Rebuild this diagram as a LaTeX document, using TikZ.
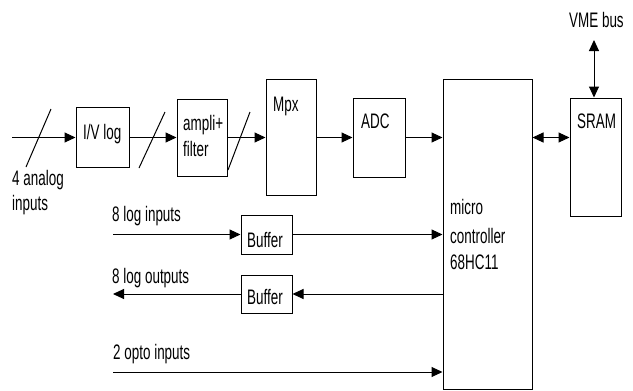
\documentclass[tikz,border=0pt]{standalone}
\usepackage{fontspec}
\setmainfont[FakeStretch=0.64]{Liberation Sans}
\usetikzlibrary{arrows.meta}
\begin{document}
\begin{tikzpicture}[x=1pt,y=-1pt,
  every node/.style={font=\fontsize{21}{24}\selectfont},
  box/.style={draw, line width=1pt, inner sep=0pt},
  lbl/.style={anchor=base west, inner sep=0pt},
  conn/.style={line width=1pt},
  arr/.style={conn, -{Triangle[length=11pt,width=10pt]}},
  darr/.style={conn, {Triangle[length=11pt,width=10pt]}-{Triangle[length=11pt,width=10pt]}}]
\useasboundingbox (0,0) rectangle (633,391);
% boxes
\node[box, minimum width=53, minimum height=60] (iv) at (102.5,137.5) {};
\node[box, minimum width=50, minimum height=77] (amp) at (202,137.5) {};
\node[box, minimum width=50, minimum height=116] (mpx) at (291,137.5) {};
\node[box, minimum width=52, minimum height=79] (adc) at (379,137.5) {};
\node[box, minimum width=89, minimum height=310] (mc) at (487.5,234.5) {};
\node[box, minimum width=51, minimum height=118] (sram) at (595.5,157) {};
\node[box, minimum width=51, minimum height=39] (buf1) at (266.5,234.5) {};
\node[box, minimum width=51, minimum height=38] (buf2) at (266.5,294) {};
% labels
\node[lbl] (tiv) at (83,139) {I/V log};
\node[lbl] (tamp1) at (183,130) {ampli+};
\node[lbl] (tamp2) at (183,156) {filter};
\node[lbl] (tmpx) at (273,111) {Mpx};
\node[lbl] (tadc) at (361,128) {ADC};
\node[lbl] (tsram) at (577,128) {SRAM};
\node[lbl] (tbuf1) at (247,247) {Buffer};
\node[lbl] (tbuf2) at (247,304) {Buffer};
\node[lbl] (tmc1) at (450,214) {micro};
\node[lbl] (tmc2) at (450,243) {controller};
\node[lbl] (tmc3) at (450,269) {68HC11};
\node[lbl] (tvme) at (569,27) {VME bus};
\node[lbl] (tan1) at (12,185) {4 analog};
\node[lbl] (tan2) at (12,210) {inputs};
\node[lbl] (tli) at (112,221) {8 log inputs};
\node[lbl] (tlo) at (112,283) {8 log outputs};
\node[lbl] (top) at (113,359) {2 opto inputs};
% free ends
\coordinate (ain) at (12,137.5);
\coordinate (vme) at (594,40);
\coordinate (lin) at (113,234.5);
\coordinate (lout) at (113,294);
\coordinate (opto) at (113,372);
\coordinate (s1a) at (51,109);  \coordinate (s1b) at (26,167);
\coordinate (s2a) at (165,112); \coordinate (s2b) at (139,168);
\coordinate (s3a) at (250,112); \coordinate (s3b) at (228,170);
% connectors
\draw[arr] (ain) -- (iv.west);
\draw[arr] (iv.east) -- (amp.west);
\draw[arr] (amp.east) -- (mpx.west);
\draw[arr] (mpx.east) -- (adc.west);
\draw[arr] (adc.east) -- (adc.east -| mc.west);
\draw[darr] (adc.east -| mc.east) -- (adc.east -| sram.west);
\draw[darr] (vme) -- (vme |- sram.north);
\draw[conn] (s1a) -- (s1b);
\draw[conn] (s2a) -- (s2b);
\draw[conn] (s3a) -- (s3b);
\draw[arr] (lin) -- (buf1.west);
\draw[arr] (buf1.east) -- (buf1.east -| mc.west);
\draw[arr] (buf2.east -| mc.west) -- (buf2.east);
\draw[arr] (buf2.west) -- (lout);
\draw[arr] (opto) -- (opto -| mc.west);
\end{tikzpicture}
\end{document}
